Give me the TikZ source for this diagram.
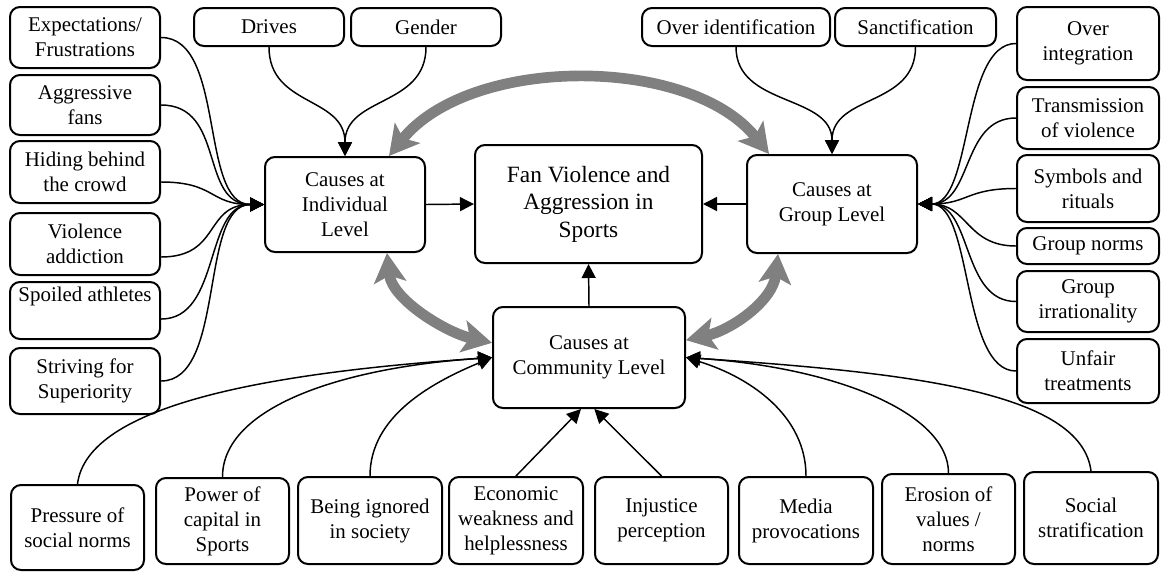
\documentclass[tikz,border=0pt]{standalone}
\usepackage{fontspec}
\setmainfont{Liberation Serif}
\usetikzlibrary{arrows.meta}
\newcommand\bx[7][]{\node[box,#1, minimum width={(#5-#3)*0.75pt}, minimum height={(#6-#4)*0.75pt}] (#2) at ({(#3+#5)/2},{(#4+#6)/2}) {#7};}
\tikzset{
  box/.style={draw, line width=1.5pt, rounded corners=7.5pt, align=center, inner sep=0pt,
    font=\fontsize{15.7pt}{18.75pt}\selectfont},
  bigtext/.style={font=\fontsize{17.5pt}{20.6pt}\selectfont},
  conn/.style={line width=1.1pt, -{Triangle[length=10.5pt,width=10.5pt]}},
  garrow/.style={draw=gray, line width=8pt,
    {Stealth[length=22pt,width=24pt,inset=5pt]}-{Stealth[length=22pt,width=24pt,inset=5pt]}}
}
\begin{document}
\begin{tikzpicture}[x=0.75pt,y=-0.75pt]
\useasboundingbox (0,0) rectangle (1161,572);
% left column
\bx{exp}{10}{7}{160}{68}{Expectations/\\Frustrations}
\bx{agg}{10}{75}{160}{135}{Aggressive\\fans}
\bx{hid}{10}{141}{160}{203}{Hiding behind\\the crowd}
\bx{vio}{10}{213}{160}{275}{Violence\\addiction}
\bx{spo}{10}{282}{160}{339}{Spoiled athletes\\\strut}
\bx{str}{10}{348}{160}{414}{Striving for\\Superiority}
% top row
\bx{dri}{194}{8}{344}{46}{Drives}
\bx{gen}{351}{8}{501}{46}{Gender}
\bx{ovi}{642}{8}{830}{46}{Over identification}
\bx{san}{835}{8}{996}{46}{Sanctification}
% right column
\bx{ovn}{1017}{7}{1159}{80}{Over\\integration}
\bx{tra}{1017}{87}{1159}{149}{Transmission\\of violence}
\bx{sym}{1017}{155}{1159}{222}{Symbols and\\rituals}
\bx{gno}{1017}{228}{1159}{264}{Group norms}
\bx{gir}{1017}{271}{1159}{332}{Group\\irrationality}
\bx{unf}{1017}{339}{1159}{403}{Unfair\\treatments}
% centre
\bx{ind}{265}{157}{425}{252}{Causes at\\Individual\\Level}
\bx[bigtext]{fan}{475}{145}{702}{263}{Fan Violence and\\Aggression in\\Sports}
\bx{grp}{747}{155}{917}{253}{Causes at\\Group Level}
\bx{com}{493}{307}{685}{408}{Causes at\\Community Level}
% bottom row
\bx{pre}{11}{485}{144}{570}{Pressure of\\social norms}
\bx{pow}{156}{478}{289}{564}{Power of\\capital in\\Sports}
\bx{ign}{298}{477}{442}{564}{Being ignored\\in society}
\bx{eco}{449}{477}{583}{564}{Economic\\weakness and\\helplessness}
\bx{inj}{595}{477}{728}{564}{Injustice\\perception}
\bx{med}{739}{477}{873}{564}{Media\\provocations}
\bx{ero}{882}{474}{1015}{564}{Erosion of\\values /\\norms}
\bx{soc}{1024}{472}{1158}{564}{Social\\stratification}
% left connectors
\draw[conn] (exp.east) .. controls +(65,0) and +(-65,0) .. (ind.west);
\draw[conn] (agg.east) .. controls +(65,0) and +(-65,0) .. (ind.west);
\draw[conn] ([yshift=-7.5pt]hid.east) .. controls +(55,0) and +(-55,0) .. (ind.west);
\draw[conn] ([yshift=-9.75pt]vio.east) .. controls +(60,0) and +(-60,0) .. (ind.west);
\draw[conn] ([yshift=-6.4pt]spo.east) .. controls +(60,0) and +(-60,0) .. (ind.west);
\draw[conn] (str.east) .. controls +(65,0) and +(-65,0) .. (ind.west);
% right connectors
\draw[conn] (ovn.west) .. controls +(-55,0) and +(55,0) .. (grp.east);
\draw[conn] (tra.west) .. controls +(-55,0) and +(55,0) .. (grp.east);
\draw[conn] (sym.west) .. controls +(-50,0) and +(50,0) .. (grp.east);
\draw[conn] (gno.west) .. controls +(-50,0) and +(50,0) .. (grp.east);
\draw[conn] (gir.west) .. controls +(-55,0) and +(55,0) .. (grp.east);
\draw[conn] (unf.west) .. controls +(-55,0) and +(55,0) .. (grp.east);
% top connectors
\draw[conn] (dri.south) .. controls +(0,60) and +(0,-60) .. (ind.north);
\draw[conn] (gen.south) .. controls +(0,60) and +(0,-60) .. (ind.north);
\draw[conn] (ovi.south) .. controls +(0,60) and +(0,-60) .. (grp.north);
\draw[conn] (san.south) .. controls +(0,60) and +(0,-60) .. (grp.north);
% bottom connectors
\draw[conn] (pre.north) .. controls +(10,-80) and +(-220,15) .. (com.west);
\draw[conn] (pow.north) .. controls +(0,-70) and +(-150,10) .. (com.west);
\draw[conn] (ign.north) .. controls +(0,-60) and +(-60,25) .. (com.west);
\draw[conn] (eco.north) -- ([xshift=-6pt]com.south);
\draw[conn] (inj.north) -- ([xshift=4pt]com.south);
\draw[conn] (med.north) .. controls +(0,-60) and +(65,20) .. (com.east);
\draw[conn] (ero.north) .. controls +(0,-60) and +(150,10) .. (com.east);
\draw[conn] (soc.north) .. controls +(-10,-80) and +(220,15) .. (com.east);
% to the centre
\draw[conn] (ind.east) -- (fan.west);
\draw[conn] (grp.west) -- (fan.east);
\draw[conn] (com.north) -- (fan.south);
% grey double arrows
\draw[garrow] ([xshift=33pt]ind.north) .. controls +(81,-101) and +(-79,-99) .. ([xshift=-47.25pt]grp.north);
\draw[garrow] ([xshift=31.5pt]ind.south) .. controls +(5,47) and +(-45,-10) .. ([yshift=11pt]com.west);
\draw[garrow] ([yshift=13pt]com.east) .. controls +(45,-10) and +(-5,47) .. ([xshift=-40.5pt]grp.south);
\end{tikzpicture}
\end{document}
